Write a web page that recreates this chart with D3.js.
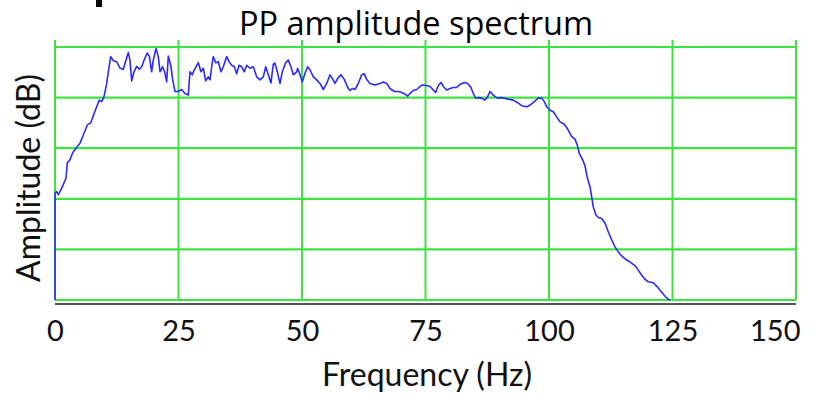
<!DOCTYPE html>
<html><head><meta charset="utf-8">
<script src="https://cdn.jsdelivr.net/npm/d3@7"></script>
<style>html,body{margin:0;padding:0;background:#fff;}svg{display:block;}</style>
</head><body>
<svg id="chart" width="820" height="395"></svg>
<script>
const title = "PP amplitude spectrum";
const xLabel = "Frequency (Hz)";
const yLabel = "Amplitude (dB)";
const xTicks = [0, 25, 50, 75, 100, 125, 150];
const yGrid = [-50, -40, -30, -20, -10, 0];

const freq = [0,0,0.34,0.67,1.36,2.23,2.49,3.04,3.58,4.25,5.06,5.73,6.54,7.23,7.75,8.44,8.97,9.45,9.92,10.47,10.79,11.28,11.80,12.49,13.16,13.83,14.37,14.84,15.18,15.53,15.99,16.54,17.06,17.55,18.02,18.68,19.09,19.57,19.90,20.45,20.91,21.26,21.80,22.27,22.61,22.94,23.42,23.83,24.29,24.96,25.65,26.32,26.98,27.33,27.79,28.20,29.01,29.55,30.02,30.51,31.03,31.38,31.72,32.04,32.53,33.06,33.60,34.07,34.76,35.22,35.77,36.30,36.78,37.25,37.79,38.32,38.81,39.47,40.14,40.83,41.50,42.17,42.65,43.18,43.72,44.19,44.53,45.08,45.55,46.01,46.70,47.23,47.77,48.24,48.93,49.13,49.60,50.06,50.61,51.15,51.62,52.29,52.98,53.64,54.31,55.00,55.67,56.13,56.68,57.23,57.90,58.56,59.25,59.72,60.18,60.73,61.40,62.08,62.61,63.10,63.77,64.78,65.79,66.46,67.15,67.81,68.69,69.49,70.18,70.85,71.40,71.86,72.53,73.22,73.68,74.35,75.24,75.91,76.58,77.06,77.59,78.14,78.60,79.29,79.96,80.63,81.32,81.98,82.86,83.54,84.21,84.68,85.16,85.83,86.38,87.04,87.59,88.06,88.52,89.07,89.62,90.28,90.95,91.76,92.77,93.79,94.47,95.49,96.15,97.03,97.83,98.52,99.05,99.54,100.20,100.87,101.56,102.23,103.04,103.70,104.60,105.26,105.73,106.13,106.82,107.29,107.75,108.30,108.64,108.97,109.51,109.98,110.67,111.34,112.00,112.69,113.36,114.03,114.72,115.59,116.40,117.41,118.08,118.77,119.43,120.10,121.12,121.93,122.61,123.28,123.95,124.50];
const amp = [-50,-28.9,-28.6,-29.2,-27.9,-25.9,-22.9,-22.3,-20.9,-20.0,-19.0,-17.4,-15.4,-15.0,-13.6,-11.8,-10.5,-10.8,-9.8,-7.2,-4.9,-1.9,-2.7,-2.9,-4.2,-4.4,-2.6,-1.1,-2.6,-6.7,-4.9,-3.8,-4.4,-3.9,-2.6,-1.2,-1.8,-4.9,-2.6,-0.3,-1.9,-4.9,-3.9,-5.2,-6.9,-1.8,-3.6,-6.5,-8.8,-8.8,-8.4,-9.2,-9.5,-4.9,-5.5,-4.5,-3.1,-4.9,-4.2,-6.7,-5.9,-6.5,-3.9,-1.9,-3.1,-2.9,-4.9,-3.9,-1.9,-2.9,-3.6,-3.9,-5.3,-3.6,-3.9,-4.9,-3.6,-4.2,-3.9,-5.9,-6.5,-5.9,-3.9,-5.5,-7.1,-3.4,-3.2,-5.2,-7.2,-4.9,-3.1,-2.6,-3.9,-5.5,-4.9,-4.2,-5.5,-6.9,-5.2,-3.9,-4.5,-5.9,-6.5,-7.2,-8.4,-7.2,-5.5,-6.2,-7.2,-6.2,-5.5,-6.4,-8.0,-8.6,-8.2,-8.4,-7.2,-5.5,-5.3,-6.4,-7.2,-7.5,-7.2,-6.9,-7.2,-8.2,-8.8,-8.8,-9.0,-9.3,-9.7,-9.2,-8.6,-8.4,-8.0,-7.5,-7.6,-7.8,-8.5,-9.0,-7.6,-7.0,-7.8,-8.5,-8.2,-8.0,-8.0,-7.4,-7.0,-7.2,-8.0,-9.2,-10.1,-10.0,-10.1,-10.5,-9.8,-8.8,-9.3,-9.8,-10.1,-10.0,-10.1,-10.3,-10.5,-11.1,-11.6,-11.8,-11.5,-10.8,-10.1,-10.1,-10.8,-11.8,-12.5,-12.8,-13.8,-14.8,-15.2,-16.1,-17.7,-18.2,-19.4,-21.0,-22.3,-23.5,-25.8,-27.6,-29.6,-31.6,-33.2,-33.7,-33.9,-34.8,-36.5,-38.1,-39.5,-40.5,-41.3,-42.0,-42.5,-43.2,-44.1,-45.1,-45.9,-46.4,-46.6,-47.4,-48.2,-49.0,-49.7,-50.0];

const svg = d3.select("#chart");
const mLeft = 55, mRight = 796, mTop = 47, mBottom = 300;
const x = d3.scaleLinear().domain([0, 150]).range([mLeft, mRight]);
const y = d3.scaleLinear().domain([-50, 0]).range([mBottom, mTop]);
const font = "Lato, 'Open Sans', sans-serif";

// cropped fragment from neighbouring panel
svg.append("rect").attr("x", 96).attr("y", 0).attr("width", 6).attr("height", 7).attr("fill", "#000");

const green = "#3fe33f";
svg.append("g").selectAll("line").data(yGrid).join("line")
  .attr("x1", mLeft).attr("x2", mRight)
  .attr("y1", d => y(d)).attr("y2", d => y(d))
  .attr("stroke", green).attr("stroke-width", 2.2);
svg.append("g").selectAll("line").data(xTicks).join("line")
  .attr("x1", d => x(d)).attr("x2", d => x(d))
  .attr("y1", mTop - 7).attr("y2", mBottom)
  .attr("stroke", green).attr("stroke-width", 2);

svg.append("line").attr("x1", mLeft).attr("x2", mRight).attr("y1", mBottom + 4).attr("y2", mBottom + 4)
  .attr("stroke", "#555").attr("stroke-width", 2);

const axis = d3.axisBottom(x).tickValues(xTicks).tickSize(0).tickPadding(0).tickFormat(d3.format("d"));
const ax = svg.append("g").attr("transform", `translate(0,${mBottom})`).call(axis);
ax.select(".domain").remove();
ax.selectAll("text").attr("font-family", font).attr("font-size", 29).attr("fill", "#111")
  .attr("dy", null).attr("y", 41);
ax.selectAll(".tick").filter(d => d === xTicks[xTicks.length - 1]).select("text")
  .attr("text-anchor", "end").attr("x", 4);

const pts = freq.map((f, i) => [f, amp[i]]);
svg.append("path").datum(pts)
  .attr("d", d3.line().x(d => x(d[0])).y(d => y(d[1])))
  .attr("fill", "none").attr("stroke", "#2a2aff").attr("stroke-width", 1.6).attr("stroke-linejoin", "round");

svg.append("text").attr("x", 416).attr("y", 35).attr("text-anchor", "middle")
  .attr("font-family", "'Open Sans', sans-serif").attr("font-size", 32.5).attr("fill", "#000").text(title);
svg.append("text").attr("x", 427).attr("y", 386).attr("text-anchor", "middle")
  .attr("font-family", font).attr("font-size", 32).attr("fill", "#111").text(xLabel);
svg.append("text").attr("transform", "translate(40,178) rotate(-90)").attr("text-anchor", "middle")
  .attr("font-family", font).attr("font-size", 32).attr("fill", "#111").text(yLabel);
</script>
</body></html>
